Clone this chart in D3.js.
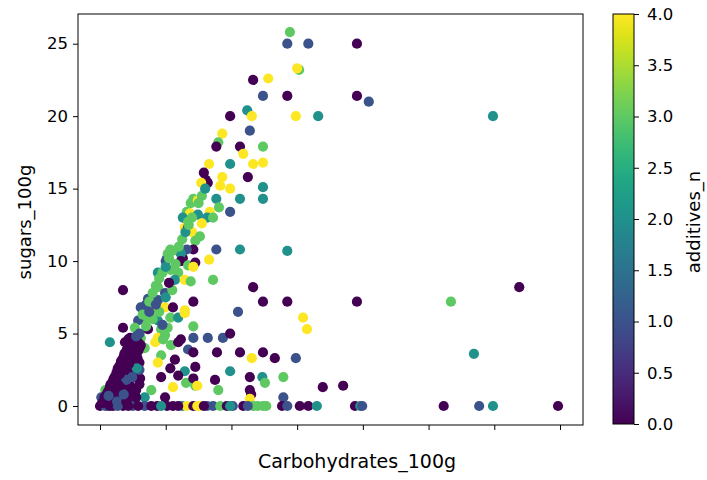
<!DOCTYPE html>
<html><head><meta charset="utf-8">
<script src="https://cdn.jsdelivr.net/npm/d3@7"></script>
<style>body{margin:0;background:#fff}svg{display:block}text{font-family:"DejaVu Sans",sans-serif;fill:#000}</style>
</head><body><svg id="c" width="707" height="480"></svg>
<script>
const carbs=[28.9,28.5,31.7,39.1,39.1,40.9,59.8,29.8,33.2,30.3,
30.0,24.8,28.5,23.3,25.6,19.8,22.4,23.1,22.8,18.6,
18.0,17.7,21.3,24.8,21.8,16.6,19.8,23.3,24.8,15.8,
16.1,16.4,15.4,18.6,18.3,19.8,22.5,24.8,24.8,17.7,
21.3,14.2,13.8,14.9,18.1,16.7,19.8,13.2,13.7,14.9,
16.3,17.2,12.6,13.4,12.9,15.5,13.4,14.0,15.2,14.5,
14.2,13.2,17.7,21.3,10.7,12.2,10.2,12.6,28.5,10.3,
12.3,12.3,10.0,8.8,10.8,11.9,13.4,14.5,11.4,12.9,
13.8,3.5,8.8,9.9,7.3,8.8,6.2,8.4,9.9,11.1,
12.9,14.2,6.8,7.8,5.8,8.8,10.7,11.9,12.9,5.3,
7.3,9.3,10.3,3.5,4.6,6.2,8.8,9.9,1.5,12.3,
14.2,3.8,5.8,4.3,6.8,8.4,9.6,10.8,11.9,13.4,
9.3,8.8,11.4,10.7,12.9,11.9,14.5,6.1,9.3,11.1,
13.1,14.5,0.8,2.7,5.5,7.8,6.8,9.9,0.2,0.5,
1.0,1.5,2.0,2.5,3.0,3.5,4.0,4.3,2.0,3.0,
3.5,4.0,4.5,5.0,5.5,5.0,4.5,6.0,3.0,2.5,
4.0,5.5,6.2,1.8,3.8,2.8,5.0,6.0,4.8,3.2,
16.4,18.7,19.8,14.2,17.8,21.3,23.1,24.8,26.6,29.8,
19.8,24.7,25.1,22.8,27.9,14.2,17.5,14.8,18.0,22.8,
23.0,27.9,33.9,37.0,22.8,16.6,14.2,17.2,23.3,24.8,
28.5,21.0,30.9,31.5,14.2,39.1,53.4,63.8,56.9,0.0,
1.1,2.0,3.5,5.0,6.8,8.7,10.2,11.1,12.5,13.2,
14.2,15.2,16.3,17.2,18.3,19.3,20.2,21.8,23.3,24.8,
25.3,27.7,28.5,30.4,31.7,33.0,38.8,39.6,39.9,52.3,
57.7,59.8,69.7,0.8,1.5,2.7,4.3,5.8,7.8,9.3,
11.9,14.8,15.8,19.8,22.5,24.0,0.5,1.2,1.8,
0.3,0.7,1.2,1.6,2.2,2.7,3.2,3.7,4.2,4.6,
1.5,2.5,3.5,4.5,5.5,2.3,3.3,4.3,5.3,5.8,
3.9,4.8,5.2,6.0,4.0,3.0,2.0,5.0,6.0,5.6,
1.0,2.6,4.0,3.6,1.3,2.9,4.9,3.4,4.4,5.7,
6.5,7.0,7.5,8.0,8.5,9.0,9.5,10.0,10.5,11.0,
7.0,8.0,9.0,10.0,11.0,9.5,11.5,12.0,12.5,13.0,
13.5,14.0,15.0,15.5,16.0,6.0,5.5,7.5,8.5,10.5];
const sugars=[25.8,25.0,25.0,25.0,21.4,21.0,20.0,20.0,20.0,23.2,
23.3,21.4,21.4,22.5,22.6,20.0,20.4,20.0,19.0,18.8,
18.2,17.9,17.9,17.9,17.4,16.7,16.7,16.7,16.8,16.1,
15.6,15.4,15.4,15.8,15.2,15.0,15.8,15.1,14.3,14.3,
14.3,14.3,14.0,14.2,13.7,13.4,13.4,13.4,13.3,13.2,
13.0,13.0,13.0,12.7,12.3,12.6,12.3,12.0,11.7,11.4,
10.8,10.8,10.8,10.8,10.8,10.6,10.2,10.2,10.7,10.5,
10.5,10.0,10.0,9.2,9.4,9.2,9.7,9.9,8.7,8.7,
8.6,8.0,8.2,7.8,7.4,7.3,6.8,6.6,6.8,6.8,
6.6,7.2,6.1,6.1,5.9,5.9,6.1,6.1,6.4,5.4,
5.3,5.3,5.4,5.4,4.7,4.7,4.7,4.9,4.4,4.6,
4.7,4.4,4.4,4.6,4.0,4.4,4.6,4.2,4.4,3.9,
3.5,3.0,3.2,2.6,2.4,2.1,2.7,1.9,2.0,1.3,
1.6,1.4,1.1,1.2,1.1,1.1,0.6,0.6,0.6,0.3,
0.8,1.3,1.8,2.3,2.8,3.3,3.8,4.1,0.5,1.0,
2.0,2.5,3.2,4.0,3.5,2.5,1.5,3.0,0.4,1.5,
0.8,2.0,4.2,0.9,1.6,2.0,3.0,2.5,0.5,3.0,
4.7,4.7,5.0,3.7,3.7,3.7,3.3,3.7,3.3,3.3,
2.4,2.0,1.6,2.0,2.0,1.9,1.8,1.4,1.1,1.1,
0.8,0.6,1.3,1.4,0.5,10.1,9.6,8.7,8.2,7.2,
7.2,6.5,6.1,5.3,5.5,7.2,7.2,8.2,3.6,0,
0,0,0,0,0,0,0,0,0,0,
0,0,0,0,0,0,0,0,0,0,
0,0,0,0,0,0,0,0,0,0,
0,0,0,0,0,0,0,0,0,0,
0,0,0,0,0,0,0.5,0.3,0.4,
0.2,0.6,1.0,1.5,2.0,2.6,3.1,3.6,4.0,4.3,
0.3,0.8,1.2,0.9,0.6,1.2,1.8,2.2,2.8,3.8,
3.0,3.6,4.2,4.0,1.8,2.2,1.0,1.2,1.5,2.6,
0.2,0.3,0.3,0.8,0.7,1.4,2.0,2.6,2.9,3.3,
6.3,7.0,7.2,7.8,8.3,8.8,9.2,9.6,10.2,10.7,
5.5,6.0,6.5,7.5,8.0,5.6,9.8,11.0,11.5,12.0,
12.5,13.0,14.0,14.5,15.0,5.0,4.8,6.5,7.0,8.5];
const additives=[3,1,1,0,0,1,2,4,2,3,
4,1,0,0,4,0,2,4,1,4,
3,0,0,3,4,4,2,4,4,0,
0,0,4,4,4,4,0,2,2,2,
2,3,3,4,3,4,1,3,4,2,
2,3,2,3,4,4,0,4,3,3,
0,1,1,2,3,2,1,0,2,3,
2,0,1,2,3,3,3,0,2,4,
3,0,3,1,1,1,1,4,4,0,
4,0,3,3,1,2,3,2,4,3,
0,3,3,0,0,3,4,3,2,0,
1,0,0,0,3,4,3,3,0,1,
3,4,0,0,2,0,0,0,0,4,
3,3,3,2,0,3,2,0,1,0,
0,0,0,0,0,0,0,0,0,0,
0,0,0,0,0,0,0,0,1,2,
0,0,0,2,0,1,0,1,0,0,
1,1,0,0,0,0,4,0,0,1,
2,2,3,0,3,0,0,4,3,0,
0,1,0,0,4,4,4,3,0,0,
0,1,4,4,3,0,3,0,2,0,
2,0,0,1,1,0,0,0,2,4,
0,4,1,1,3,0,1,0,3,3,
3,0,1,0,0,2,0,2,1,0,
1,2,0,1,0,1,0,0,0,2,
0,4,0,2,1,3,1,2,1,
0,0,0,0,0,0,0,0,0,0,
0,0,0,0,0,0,0,0,0,0,
0,0,0,0,1,0,0,0,0,2,
0,1,0,1,1,0,1,0,0,0,
3,1,3,3,3,3,3,2,3,3,
3,3,3,2,3,1,3,3,3,2,
3,3,3,3,2,1,1,1,1,0];
const xTicks=[0,10,20,30,40,50,60,70];
const yTicks=[0,5,10,15,20,25];
const cTicks=[0,0.5,1,1.5,2,2.5,3,3.5,4];
const xLabel="Carbohydrates_100g", yLabel="sugars_100g", cLabel="additives_n";

const svg=d3.select("#c");
const L=78,R=583,T=14,B=425;
const x=d3.scaleLinear().domain([-3.35,73.5]).range([L,R]);
const y=d3.scaleLinear().domain([-1.31,27.05]).range([B,T]);
const cScale=d3.scaleSequential(d3.interpolateViridis).domain([0,4]);
const n=Math.min(carbs.length,sugars.length,additives.length);
const pts=d3.range(n).map(i=>({c:carbs[i],s:sugars[i],a:additives[i]}));

svg.append("g").selectAll("circle").data(pts).join("circle")
  .attr("cx",d=>x(d.c)).attr("cy",d=>y(d.s)).attr("r",5.1)
  .attr("fill",d=>cScale(d.a));

const fs=16.5;
const xAx=svg.append("g").attr("transform",`translate(0,${B})`)
  .call(d3.axisBottom(x).tickValues(xTicks).tickSize(5).tickFormat(""));
const yAx=svg.append("g").attr("transform",`translate(${L},0)`)
  .call(d3.axisLeft(y).tickValues(yTicks).tickSize(5).tickPadding(5).tickFormat(d3.format("d")));
[xAx,yAx].forEach(g=>{g.select(".domain").remove();g.selectAll("line").attr("stroke","#000").attr("stroke-width",1);
  g.selectAll("text").attr("font-size",fs).attr("font-family","DejaVu Sans").attr("fill","#000");});
svg.append("rect").attr("x",L).attr("y",T).attr("width",R-L).attr("height",B-T)
  .attr("fill","none").attr("stroke","#000").attr("stroke-width",1);

svg.append("text").attr("x",357).attr("y",468).attr("text-anchor","middle").attr("font-size",19).text(xLabel);
svg.append("text").attr("transform","translate(31,222) rotate(-90)").attr("text-anchor","middle").attr("font-size",18).text(yLabel);

const cbL=613,cbW=21,cbT=14,cbB=424;
const cy=d3.scaleLinear().domain([0,4]).range([cbB,cbT]);
const defs=svg.append("defs");
const grad=defs.append("linearGradient").attr("id","vg").attr("x1",0).attr("y1",1).attr("x2",0).attr("y2",0);
d3.range(0,1.0001,0.05).forEach(t=>grad.append("stop").attr("offset",t).attr("stop-color",d3.interpolateViridis(t)));
svg.append("rect").attr("x",cbL).attr("y",cbT).attr("width",cbW).attr("height",cbB-cbT).attr("fill","url(#vg)")
  .attr("stroke","#000").attr("stroke-width",1);
const cAx=svg.append("g").attr("transform",`translate(${cbL+cbW},0)`)
  .call(d3.axisRight(cy).tickValues(cTicks).tickSize(5).tickPadding(8).tickFormat(d3.format(".1f")));
cAx.select(".domain").remove();
cAx.selectAll("line").attr("stroke","#000");
cAx.selectAll("text").attr("font-size",fs).attr("font-family","DejaVu Sans").attr("fill","#000");
svg.append("text").attr("transform","translate(700,222) rotate(-90)").attr("text-anchor","middle").attr("font-size",18).text(cLabel);
</script></body></html>
